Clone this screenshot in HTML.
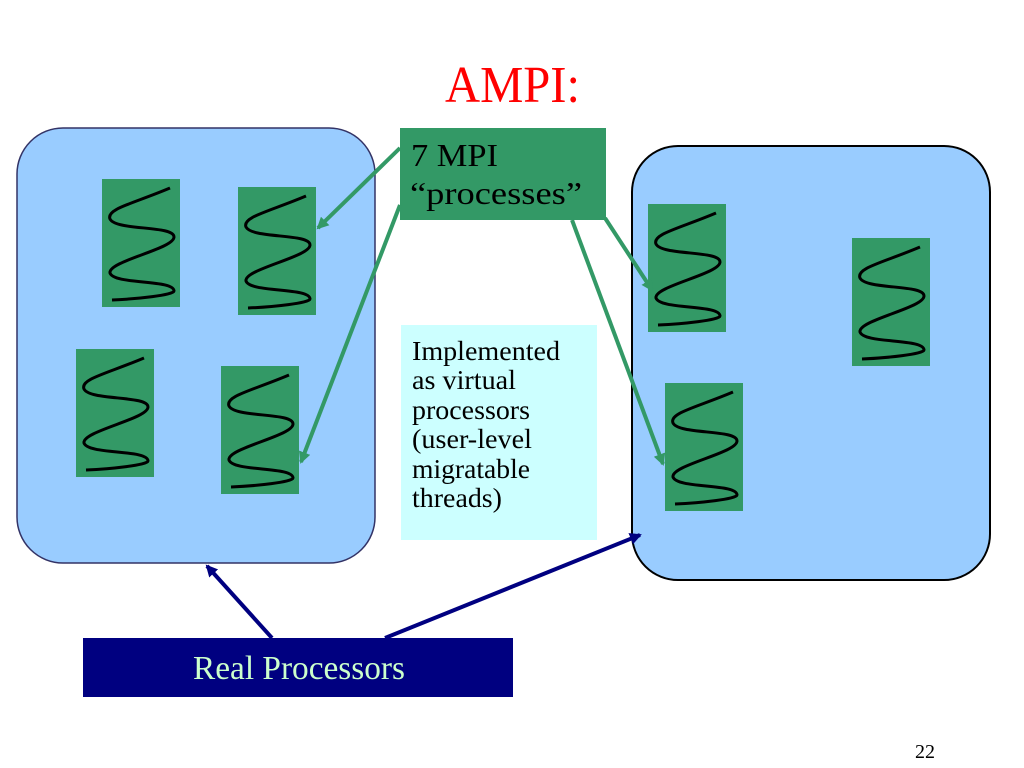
<!DOCTYPE html>
<html><head><meta charset="utf-8"><style>
html,body{margin:0;padding:0;background:#fff;}
svg{display:block;}
text{font-family:"Liberation Serif",serif;}
</style></head><body>
<svg width="1024" height="768" viewBox="0 0 1024 768" xmlns="http://www.w3.org/2000/svg">
<defs>
<g id="th">
<rect x="0" y="0" width="78" height="128" fill="#339966"/>
<path d="M68,9 C30,25 4,30 8,40 C14,52 72,46 72,58 C72,70 6,82 8,94 C12,106 72,100 72,112 C72,116 35,120 10,121" fill="none" stroke="#000" stroke-width="3"/>
</g>
<marker id="ag" markerWidth="12" markerHeight="12" refX="10" refY="6" orient="auto" markerUnits="userSpaceOnUse" viewBox="0 0 12 12"><path d="M0,0 L12,6 L0,12 z" fill="#339966"/></marker>
<marker id="ab" markerWidth="12" markerHeight="12" refX="10" refY="6" orient="auto" markerUnits="userSpaceOnUse" viewBox="0 0 12 12"><path d="M0,0 L12,6 L0,12 z" fill="#000080"/></marker>
</defs>
<text x="445" y="102" font-size="52" fill="#ff0000" textLength="135" lengthAdjust="spacingAndGlyphs">AMPI:</text>
<rect x="17" y="128" width="358" height="435" rx="46" fill="#99ccff" stroke="#333366" stroke-width="1.5"/>
<rect x="632" y="146" width="358" height="434" rx="46" fill="#99ccff" stroke="#000" stroke-width="2"/>
<use href="#th" x="102" y="179"/>
<use href="#th" x="238" y="187"/>
<use href="#th" x="76" y="349"/>
<use href="#th" x="221" y="366"/>
<use href="#th" x="648" y="204"/>
<use href="#th" x="852" y="238"/>
<use href="#th" x="665" y="383"/>
<rect x="400" y="128" width="206" height="92" fill="#339966"/>
<text x="411" y="166" font-size="32" fill="#000" textLength="87" lengthAdjust="spacingAndGlyphs">7 MPI</text>
<text x="410" y="204" font-size="32" fill="#000" textLength="172" lengthAdjust="spacingAndGlyphs">“processes”</text>
<rect x="401" y="325" width="196" height="215" fill="#ccffff"/>
<g font-size="27" fill="#000">
<text x="412" y="360" textLength="148" lengthAdjust="spacingAndGlyphs">Implemented</text>
<text x="412" y="389" textLength="104" lengthAdjust="spacingAndGlyphs">as virtual</text>
<text x="412" y="419" textLength="118" lengthAdjust="spacingAndGlyphs">processors</text>
<text x="412" y="448" textLength="120" lengthAdjust="spacingAndGlyphs">(user-level</text>
<text x="412" y="478" textLength="118" lengthAdjust="spacingAndGlyphs">migratable</text>
<text x="412" y="507" textLength="90" lengthAdjust="spacingAndGlyphs">threads)</text>
</g>
<g stroke="#339966" stroke-width="4" fill="none">
<line x1="400" y1="148" x2="318" y2="228" marker-end="url(#ag)"/>
<line x1="400" y1="205" x2="301" y2="462" marker-end="url(#ag)"/>
<line x1="605" y1="218" x2="652" y2="290" marker-end="url(#ag)"/>
<line x1="572" y1="220" x2="663" y2="464" marker-end="url(#ag)"/>
</g>
<rect x="83" y="638" width="430" height="59" fill="#000080"/>
<text x="193" y="679" font-size="34" fill="#ccffcc" textLength="212" lengthAdjust="spacingAndGlyphs">Real Processors</text>
<g stroke="#000080" stroke-width="4">
<line x1="272" y1="638" x2="207" y2="566" marker-end="url(#ab)"/>
<line x1="385" y1="638" x2="640" y2="535" marker-end="url(#ab)"/>
</g>
<text x="915" y="758" font-size="20" fill="#000">22</text>
</svg>
</body></html>
